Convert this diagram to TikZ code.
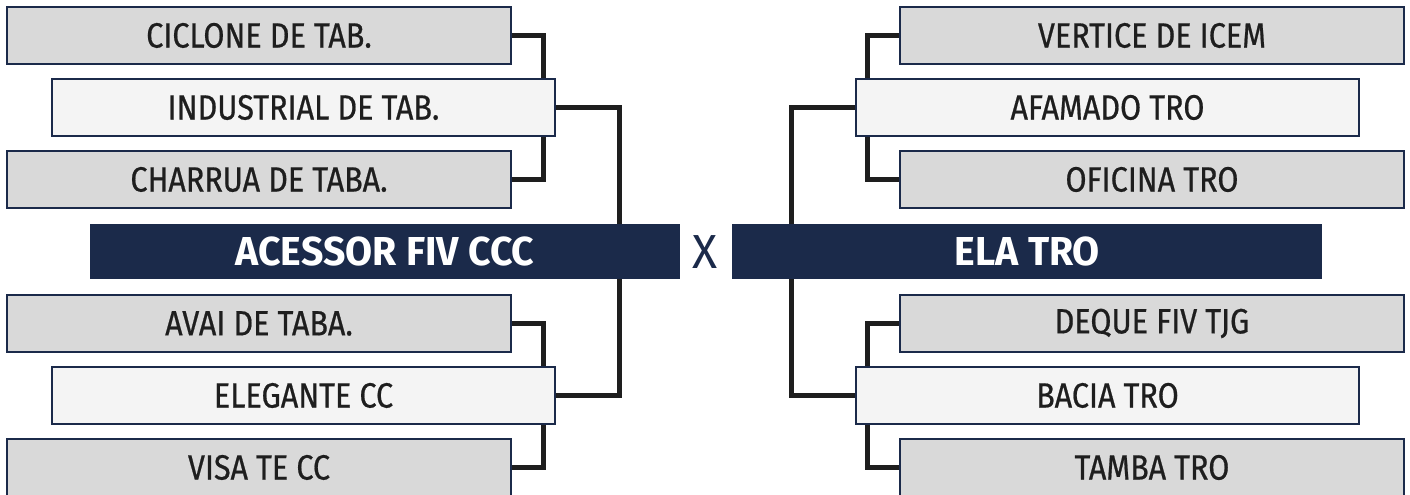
\documentclass[tikz,border=0pt]{standalone}
\usepackage{fontspec}
\setmainfont{Fira Sans}[FakeStretch=0.87, FakeBold=0.6]
\newfontfamily\titlefont{Fira Sans}[FakeStretch=0.97]
\usepackage{tikz}
\usetikzlibrary{backgrounds}

\definecolor{navy}{HTML}{1B2A4A}
\definecolor{boxgrey}{HTML}{D9D9D9}
\definecolor{boxlight}{HTML}{F4F4F4}
\definecolor{ink}{HTML}{1E1E1E}

\begin{document}
\begin{tikzpicture}[
    % Node styles
    teamG/.style={rectangle, draw=navy, line width=0.7pt, fill=boxgrey, minimum width=5.04cm, minimum height=0.57cm, inner sep=0pt, text=ink, font=\fontsize{10}{11}\selectfont},
    teamL/.style={teamG, fill=boxlight, minimum width=5.03cm},
    teamD/.style={rectangle, fill=navy, minimum width=5.9cm, minimum height=0.55cm, inner sep=0pt, text=white, font=\titlefont\fontsize{11.5}{12}\selectfont\bfseries},
    % Bracket lines
    link/.style={line width=1.3pt, draw=ink}
]
    \useasboundingbox (0,0) rectangle (14.1,4.95);

    % =========================================================================
    % 1. LEFT SIDE
    % =========================================================================
    \foreach \nm/\yy/\lbl in {cicl/4.595/CICLONE DE TAB., char/3.155/CHARRUA DE TABA., avai/1.715/AVAI DE TABA., visa/0.275/VISA TE CC} {
        \node[teamG] (\nm) at (2.59, \yy) {\lbl};
    }
    \node[teamL] (indu) at (3.035, 3.875) {INDUSTRIAL DE TAB.};
    \node[teamL] (eleg) at (3.035, 0.995) {ELEGANTE CC};
    \node[teamD] (acess) at (3.85, 2.435) {ACESSOR FIV CCC};

    % =========================================================================
    % 2. RIGHT SIDE
    % =========================================================================
    \foreach \nm/\yy/\lbl in {vert/4.595/VERTICE DE ICEM, ofic/3.155/OFICINA TRO, deque/1.715/DEQUE FIV TJG, tamba/0.275/TAMBA TRO} {
        \node[teamG] (\nm) at (11.52, \yy) {\lbl};
    }
    \node[teamL] (afam) at (11.075, 3.875) {AFAMADO TRO};
    \node[teamL] (bacia) at (11.075, 0.995) {BACIA TRO};
    \node[teamD] (ela) at (10.275, 2.435) {ELA TRO};

    % --- versus sign ---
    \node[text=navy, font=\titlefont\fontsize{13.6}{14}\selectfont] (vs) at (7.05, 2.43) {X};

    % =========================================================================
    % 3. BRACKETS (behind the boxes)
    % =========================================================================
    \begin{scope}[on background layer]
        \draw[link] (cicl.east) -- ++(0.31,0) |- (char.east);
        \draw[link] (avai.east) -- ++(0.31,0) |- (visa.east);
        \draw[link] (indu.east) -- ++(0.63,0) |- (eleg.east);
        \draw[link] (vert.west) -- ++(-0.31,0) |- (ofic.west);
        \draw[link] (deque.west) -- ++(-0.31,0) |- (tamba.west);
        \draw[link] (afam.west) -- ++(-0.63,0) |- (bacia.west);
    \end{scope}

\end{tikzpicture}
\end{document}
